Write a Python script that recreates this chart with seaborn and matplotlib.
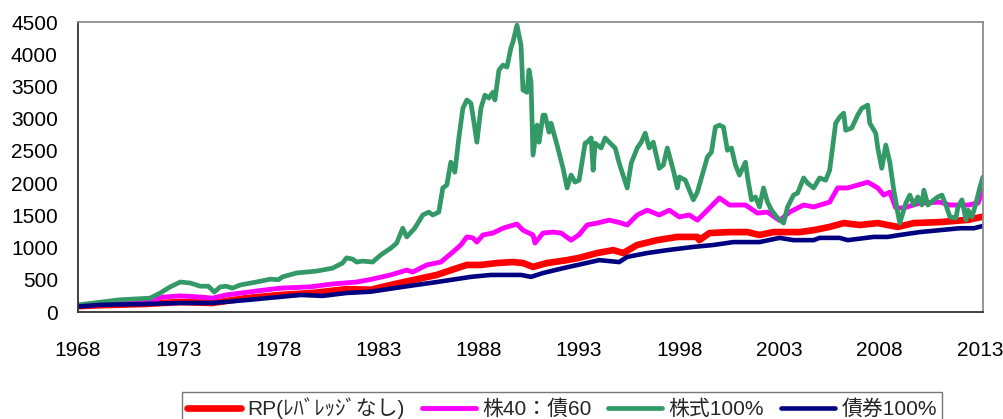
import matplotlib
matplotlib.use("Agg")
import matplotlib.pyplot as plt
import seaborn as sns
import pandas as pd

sns.set_style("white")
plt.rcParams['font.family'] = ['Liberation Sans', 'Noto Sans CJK JP', 'DejaVu Sans']

series_names = ["RP(ﾚﾊﾞﾚｯｼﾞなし)", "株40：債60", "株式100%", "債券100%"]
series_colors = ["#FF0000", "#FF00FF", "#339966", "#000080"]

rp_years = [1968.0, 1969.1, 1971.4, 1973.1, 1974.7, 1976.4, 1978.1, 1979.7, 1981.4, 1982.6, 1983.6,
            1984.7, 1985.9, 1986.9, 1987.4, 1988.1, 1988.9, 1989.7, 1990.2, 1990.7, 1991.4, 1992.4,
            1993.0, 1993.9, 1994.7, 1995.2, 1995.9, 1996.9, 1997.9, 1998.9, 1999.0, 1999.5, 2000.5,
            2001.4, 2002.0, 2002.7, 2003.4, 2004.0, 2004.7, 2005.5, 2006.2, 2007.0, 2007.9, 2008.9,
            2009.7, 2011.0, 2012.4, 2013.15]
rp_values = [90, 105, 125, 155, 140, 215, 265, 295, 355, 345, 420,
             495, 575, 680, 730, 730, 760, 775, 760, 700, 760, 805,
             840, 915, 960, 915, 1040, 1115, 1165, 1165, 1115, 1225, 1240,
             1240, 1195, 1240, 1240, 1240, 1270, 1320, 1380, 1350, 1380, 1320,
             1380, 1395, 1430, 1480]

mix_years = [1968.0, 1969.5, 1971.4, 1972.2, 1973.1, 1974.2, 1974.7, 1975.4, 1976.9, 1978.1, 1979.6,
             1980.7, 1981.9, 1982.6, 1983.6, 1984.4, 1984.7, 1985.4, 1986.1, 1986.7, 1987.1, 1987.4,
             1987.7, 1987.9, 1988.2, 1988.7, 1989.2, 1989.9, 1990.2, 1990.7, 1990.8, 1991.2, 1991.7,
             1992.1, 1992.6, 1993.0, 1993.4, 1993.9, 1994.5, 1995.0, 1995.4, 1995.9, 1996.4, 1997.0,
             1997.5, 1998.0, 1998.5, 1998.9, 1999.4, 2000.0, 2000.5, 2001.3, 2001.9, 2002.4, 2003.0,
             2003.5, 2004.2, 2004.7, 2005.5, 2005.9, 2006.4, 2006.9, 2007.4, 2007.9, 2008.2, 2008.5,
             2008.8, 2009.2, 2010.0, 2011.0, 2011.5, 2012.4, 2012.9, 2013.15]
mix_values = [95, 120, 155, 230, 250, 230, 215, 265, 325, 370, 390,
              435, 465, 505, 575, 650, 620, 730, 775, 930, 1040, 1165,
              1150, 1085, 1195, 1225, 1300, 1365, 1270, 1195, 1070, 1225, 1240,
              1225, 1115, 1200, 1350, 1380, 1425, 1390, 1350, 1505, 1580, 1505,
              1580, 1475, 1505, 1425, 1580, 1770, 1660, 1660, 1535, 1550, 1420,
              1550, 1660, 1630, 1705, 1925, 1925, 1970, 2015, 1925, 1815, 1860,
              1615, 1615, 1690, 1705, 1660, 1660, 1690, 1890]

stock_years = [1968.0, 1970.1, 1971.6, 1972.1, 1972.6, 1973.1, 1973.6, 1974.1, 1974.5, 1974.8, 1975.1,
               1975.4, 1975.7, 1976.1, 1976.9, 1977.6, 1978.0, 1978.2, 1978.9, 1979.9, 1980.7, 1981.2,
               1981.4, 1981.7, 1981.9, 1982.2, 1982.7, 1983.1, 1983.6, 1983.9, 1984.2, 1984.4, 1984.8,
               1985.2, 1985.5, 1985.7, 1986.0, 1986.2, 1986.4, 1986.6, 1986.8, 1987.0, 1987.2, 1987.4,
               1987.6, 1987.7, 1987.9, 1988.1, 1988.3, 1988.5, 1988.7, 1988.8, 1989.0, 1989.2, 1989.4,
               1989.6, 1989.7, 1989.9, 1990.1, 1990.2, 1990.4, 1990.5, 1990.6, 1990.7, 1990.9, 1991.0,
               1991.2, 1991.3, 1991.5, 1991.6, 1991.8, 1991.9, 1992.2, 1992.4, 1992.6, 1992.8, 1993.0,
               1993.3, 1993.4, 1993.6, 1993.7, 1993.8, 1994.1, 1994.3, 1994.5, 1994.8, 1995.0, 1995.4,
               1995.6, 1995.9, 1996.1, 1996.3, 1996.5, 1996.7, 1997.0, 1997.2, 1997.4, 1997.7, 1997.9,
               1998.0, 1998.3, 1998.5, 1998.7, 1998.9, 1999.1, 1999.4, 1999.6, 1999.8, 2000.0, 2000.2,
               2000.4, 2000.6, 2000.8, 2001.0, 2001.3, 2001.4, 2001.6, 2001.8, 2002.0, 2002.2, 2002.4,
               2002.6, 2002.9, 2003.2, 2003.4, 2003.7, 2003.9, 2004.2, 2004.4, 2004.7, 2005.0, 2005.3,
               2005.5, 2005.8, 2006.0, 2006.2, 2006.3, 2006.6, 2006.9, 2007.1, 2007.4, 2007.5, 2007.8,
               2007.9, 2008.1, 2008.3, 2008.5, 2008.7, 2008.9, 2009.0, 2009.3, 2009.5, 2009.7, 2009.9,
               2010.1, 2010.2, 2010.4, 2010.7, 2010.9, 2011.1, 2011.3, 2011.5, 2011.8, 2011.9, 2012.1,
               2012.3, 2012.4, 2012.6, 2012.8, 2013.0, 2013.15]
stock_values = [110, 190, 215, 295, 390, 465, 450, 400, 400, 310, 390,
                400, 370, 420, 465, 510, 500, 545, 605, 635, 680, 760,
                840, 820, 775, 790, 775, 885, 990, 1070, 1300, 1165, 1300,
                1505, 1550, 1505, 1550, 1925, 1970, 2325, 2170, 2700, 3160, 3290,
                3240, 3055, 2635, 3160, 3365, 3320, 3410, 3290, 3755, 3830, 3800,
                4100, 4190, 4450, 4140, 3445, 3410, 3755, 3570, 2435, 2900, 2635,
                3055, 3055, 2790, 2930, 2700, 2590, 2230, 1925, 2125, 2015, 2045,
                2620, 2635, 2700, 2200, 2620, 2545, 2700, 2635, 2545, 2310, 1925,
                2310, 2545, 2635, 2775, 2545, 2635, 2230, 2280, 2545, 2200, 1925,
                2095, 2045, 1890, 1740, 1860, 2080, 2405, 2480, 2870, 2900, 2870,
                2510, 2545, 2280, 2125, 2325, 2095, 1740, 1785, 1630, 1925, 1705,
                1580, 1460, 1380, 1630, 1815, 1845, 2080, 2000, 1925, 2080, 2045,
                2200, 2930, 3025, 3085, 2820, 2855, 3055, 3160, 3210, 2930, 2775,
                2545, 2230, 2590, 2325, 1890, 1535, 1380, 1690, 1815, 1660, 1785,
                1660, 1890, 1660, 1740, 1785, 1815, 1660, 1475, 1460, 1630, 1740,
                1430, 1580, 1475, 1690, 1940, 2095]

bond_years = [1968.0, 1969.1, 1971.4, 1973.1, 1974.7, 1976.4, 1978.1, 1979.1, 1980.2, 1981.4, 1982.6,
              1984.2, 1985.9, 1987.6, 1988.6, 1990.1, 1990.6, 1991.2, 1992.2, 1993.0, 1994.0, 1995.0,
              1995.4, 1996.4, 1997.4, 1998.7, 1999.7, 2000.7, 2002.0, 2003.0, 2003.7, 2004.7, 2005.0,
              2006.0, 2006.4, 2007.7, 2008.4, 2009.0, 2010.0, 2011.0, 2012.0, 2012.7, 2013.15]
bond_values = [85, 110, 125, 140, 140, 185, 235, 265, 250, 295, 315,
               390, 465, 545, 575, 575, 545, 605, 680, 735, 805, 775,
               855, 915, 960, 1010, 1040, 1085, 1085, 1150, 1115, 1115, 1150,
               1150, 1115, 1165, 1165, 1195, 1240, 1270, 1300, 1300, 1335]

x_ticks = [1968, 1973, 1978, 1983, 1988, 1993, 1998, 2003, 2008, 2013]
y_ticks = [0, 500, 1000, 1500, 2000, 2500, 3000, 3500, 4000, 4500]

frames = []
for name, xs, ys in [(series_names[0], rp_years, rp_values),
                     (series_names[1], mix_years, mix_values),
                     (series_names[2], stock_years, stock_values),
                     (series_names[3], bond_years, bond_values)]:
    frames.append(pd.DataFrame({"year": xs, "value": ys, "series": name}))
df = pd.concat(frames, ignore_index=True)

widths = [4.8, 3.5, 3.4, 3.3]

fig = plt.figure(figsize=(10.04, 4.19), dpi=100)
ax = fig.add_axes([78 / 1004, 1 - 312 / 419, (983 - 78) / 1004, (312 - 22) / 419])

for name, color, lw in zip(series_names, series_colors, widths):
    sub = df[df["series"] == name]
    sns.lineplot(data=sub, x="year", y="value", color=color, linewidth=lw,
                 ax=ax, label=name, estimator=None, sort=False)

ax.set_xlim(1968, 2013.15)
ax.set_ylim(0, 4500)
ax.set_xticks(x_ticks)
ax.set_xticklabels([str(t) for t in x_ticks])
ax.set_yticks(y_ticks)
ax.set_yticklabels([str(t) for t in y_ticks])
ax.set_xlabel("")
ax.set_ylabel("")
ax.tick_params(axis="x", direction="in", length=6, width=1, color="#555555",
               labelsize=15, pad=21, labelcolor="black")
ax.tick_params(axis="y", direction="in", length=6, width=1, color="#333333",
               labelsize=15, pad=14.5, labelcolor="black")
for side in ["left", "bottom"]:
    ax.spines[side].set_color("#333333")
    ax.spines[side].set_linewidth(1.3)
for side in ["top", "right"]:
    ax.spines[side].set_color("#8c8c8c")
    ax.spines[side].set_linewidth(1.3)
ax.grid(False)

handles, labels = ax.get_legend_handles_labels()
ax.get_legend().remove()
leg = fig.legend(handles, labels, loc="upper center", ncol=4,
                 bbox_to_anchor=(562 / 1004, 1 - 392 / 419), frameon=True,
                 fancybox=False, edgecolor="#555555", fontsize=15,
                 handlelength=2.6, handletextpad=0.3, columnspacing=0.8,
                 borderpad=0.25, borderaxespad=0)
leg.get_frame().set_linewidth(1.0)

fig.savefig("out.png", dpi=100)
